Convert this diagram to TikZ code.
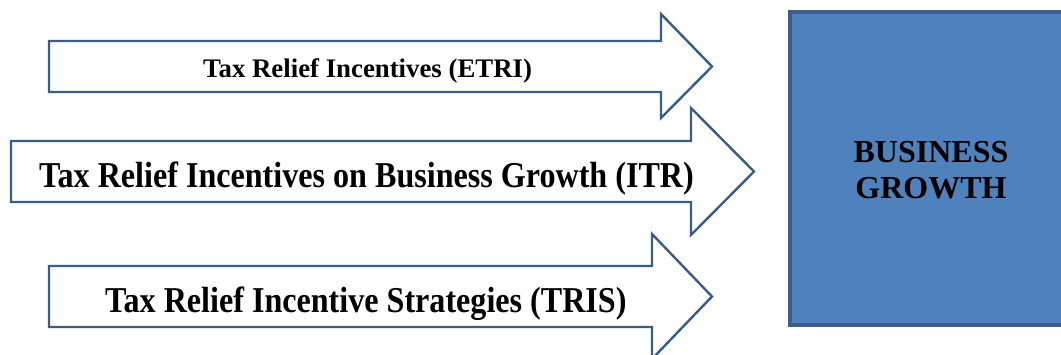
\documentclass[tikz,border=0pt]{standalone}
\usepackage{fontspec}
\setmainfont{Liberation Serif}
\begin{document}
\begin{tikzpicture}[x=1pt,y=-1pt,
  arrowshape/.style={draw=arrowline,fill=white,line width=2.4pt,line join=miter},
  goalbox/.style={draw=boxline,fill=boxfill,line width=3.2pt},
  label/.style={inner sep=0pt,anchor=base west,font=\bfseries},
]
\definecolor{arrowline}{HTML}{385D8A}
\definecolor{boxline}{HTML}{3A5F8E}
\definecolor{boxfill}{HTML}{4F81BD}
\useasboundingbox (0,0) rectangle (1061,354);
\clip (0,0) rectangle (1061,354);

% outcome box (runs past the right edge)
\draw[goalbox] (790,12) rectangle (1074,325);
\node[inner sep=0pt,align=center,font=\bfseries\fontsize{32}{36}\selectfont] (growth) at (931,170) {BUSINESS\\GROWTH};

% block arrows
\draw[arrowshape] (49,41) -- (661,41) -- (661,14) -- (712,66.5) -- (661,118) -- (661,92) -- (49,92) -- cycle;
\draw[arrowshape] (11,141) -- (691,141) -- (691,108) -- (754,171.5) -- (691,235) -- (691,202) -- (11,202) -- cycle;
\draw[arrowshape] (49,266) -- (652,266) -- (652,234) -- (712,296.5) -- (652,359) -- (652,327) -- (49,327) -- cycle;

% arrow captions
\node[label,font=\bfseries\fontsize{26.8}{30}\selectfont] (etri) at (203,77) {Tax Relief Incentives (ETRI)};
\node[label,xscale=0.882,font=\bfseries\fontsize{36.4}{40}\selectfont] (itr) at (39,187) {Tax Relief Incentives on Business Growth (ITR)};
\node[label,xscale=0.882,font=\bfseries\fontsize{36.4}{40}\selectfont] (tris) at (105,312) {Tax Relief Incentive Strategies (TRIS)};
\end{tikzpicture}
\end{document}
